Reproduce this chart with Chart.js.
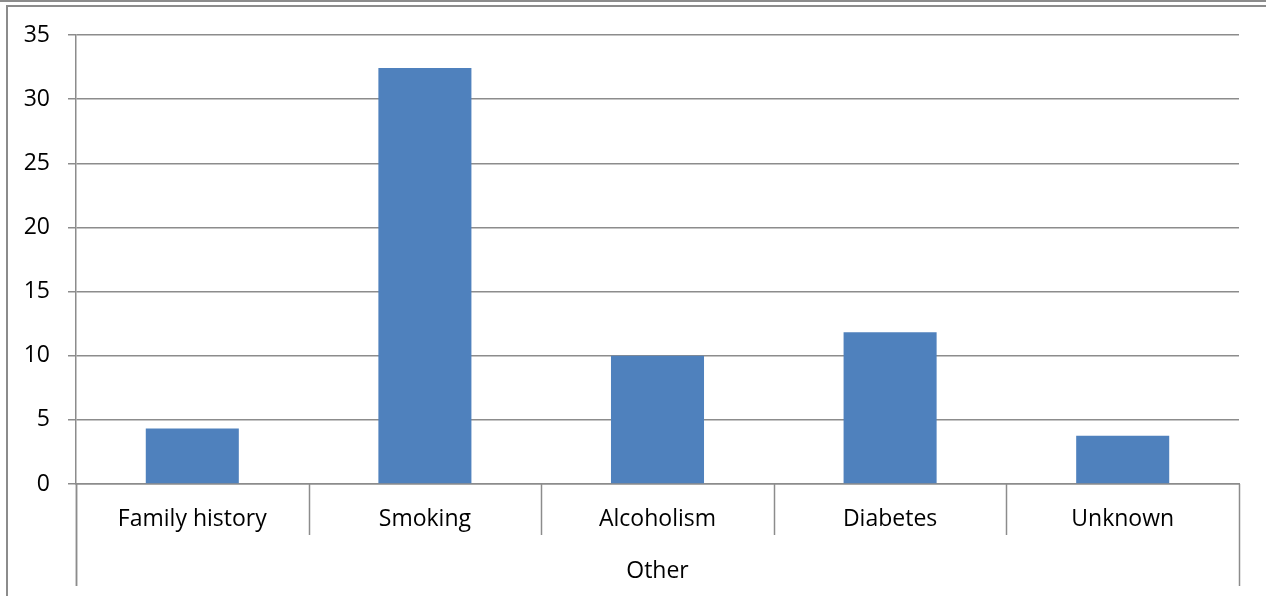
<!DOCTYPE html>
<html>
<head>
<meta charset="utf-8">
<script src="https://cdn.jsdelivr.net/npm/chart.js@4/dist/chart.umd.min.js"></script>
<style>
  html, body { margin: 0; padding: 0; background: #fff; }
  #wrap { position: relative; width: 1266px; height: 596px; overflow: hidden; }
  #topline { position: absolute; left: 0; top: 0; width: 1266px; height: 0; border-top: 2px solid #8c8c8c; }
  #frame { position: absolute; left: 6px; top: 5px; width: 1266px; height: 600px; border-left: 2px solid #8c8c8c; border-top: 2px solid #8c8c8c; }
  canvas { position: absolute; left: 0; top: 0; }
</style>
</head>
<body>
<div id="wrap">
  <div id="topline"></div>
  <div id="frame"></div>
  <canvas id="barChart" width="1266" height="596"></canvas>
</div>
<script>
const categories = ['Family history', 'Smoking', 'Alcoholism', 'Diabetes', 'Unknown'];
const groupLabel = 'Other';
const values = [4.33, 32.42, 10.0, 11.82, 3.76];
const yTicks = [0, 5, 10, 15, 20, 25, 30, 35];

const axisColor = '#8c8c8c';

// Draws the category separators and the outer lines of the two-level axis
const separatorPlugin = {
    id: 'separators',
    afterDraw(chart) {
        const x = chart.scales.x;
        const area = chart.chartArea;
        const ctx = chart.ctx;
        const step = x.getPixelForValue(1) - x.getPixelForValue(0);
        ctx.save();
        ctx.strokeStyle = axisColor;
        ctx.lineWidth = 1.5;
        for (let i = 0; i <= categories.length; i++) {
            const px = Math.round(x.getPixelForValue(i) - step / 2) + 0.5;
            const outer = (i === 0 || i === categories.length);
            ctx.beginPath();
            ctx.moveTo(px, area.bottom);
            ctx.lineTo(px, outer ? 586 : 535);
            ctx.stroke();
        }
        ctx.restore();
    }
};

Chart.defaults.font.family = '"Open Sans", sans-serif';
Chart.defaults.font.size = 23;
Chart.defaults.color = '#000';

new Chart(document.getElementById('barChart'), {
    type: 'bar',
    data: {
        labels: categories,
        datasets: [{
            data: values,
            backgroundColor: '#4f81bd',
            borderColor: '#4f81bd',
            borderWidth: 0,
            categoryPercentage: 0.4,
            barPercentage: 1.0
        }]
    },
    options: {
        responsive: false,
        animation: false,
        layout: { padding: { left: 0, right: 27, top: 35, bottom: 0 } },
        plugins: { legend: { display: false }, tooltip: { enabled: false } },
        scales: {
            x: {
                grid: { display: false },
                border: { display: true, color: axisColor, width: 1.5 },
                ticks: { padding: 14, maxRotation: 0, autoSkip: false, font: { size: 23 } },
                title: { display: true, text: groupLabel, padding: { top: 0, bottom: 11 }, color: '#000', font: { size: 23 } },
                afterFit: s => { s.height = 112; }
            },
            y: {
                min: 0,
                max: 35,
                afterBuildTicks: s => { s.ticks = yTicks.map(v => ({ value: v })); },
                grid: { color: axisColor, lineWidth: 1.5, tickLength: 8 },
                border: { display: true, color: axisColor, width: 1.5 },
                ticks: { padding: 18, font: { size: 23 } },
                afterFit: s => { s.width = 76; }
            }
        }
    },
    plugins: [separatorPlugin, {
        id: 'axisExtend',
        afterDraw(chart) {
            const area = chart.chartArea;
            const ctx = chart.ctx;
            ctx.save();
            ctx.strokeStyle = axisColor;
            ctx.lineWidth = 1.5;
            ctx.beginPath();
            ctx.moveTo(Math.round(area.left) + 0.5, area.bottom);
            ctx.lineTo(Math.round(area.left) + 0.5, 586);
            ctx.stroke();
            ctx.restore();
        }
    }]
});
</script>
</body>
</html>
